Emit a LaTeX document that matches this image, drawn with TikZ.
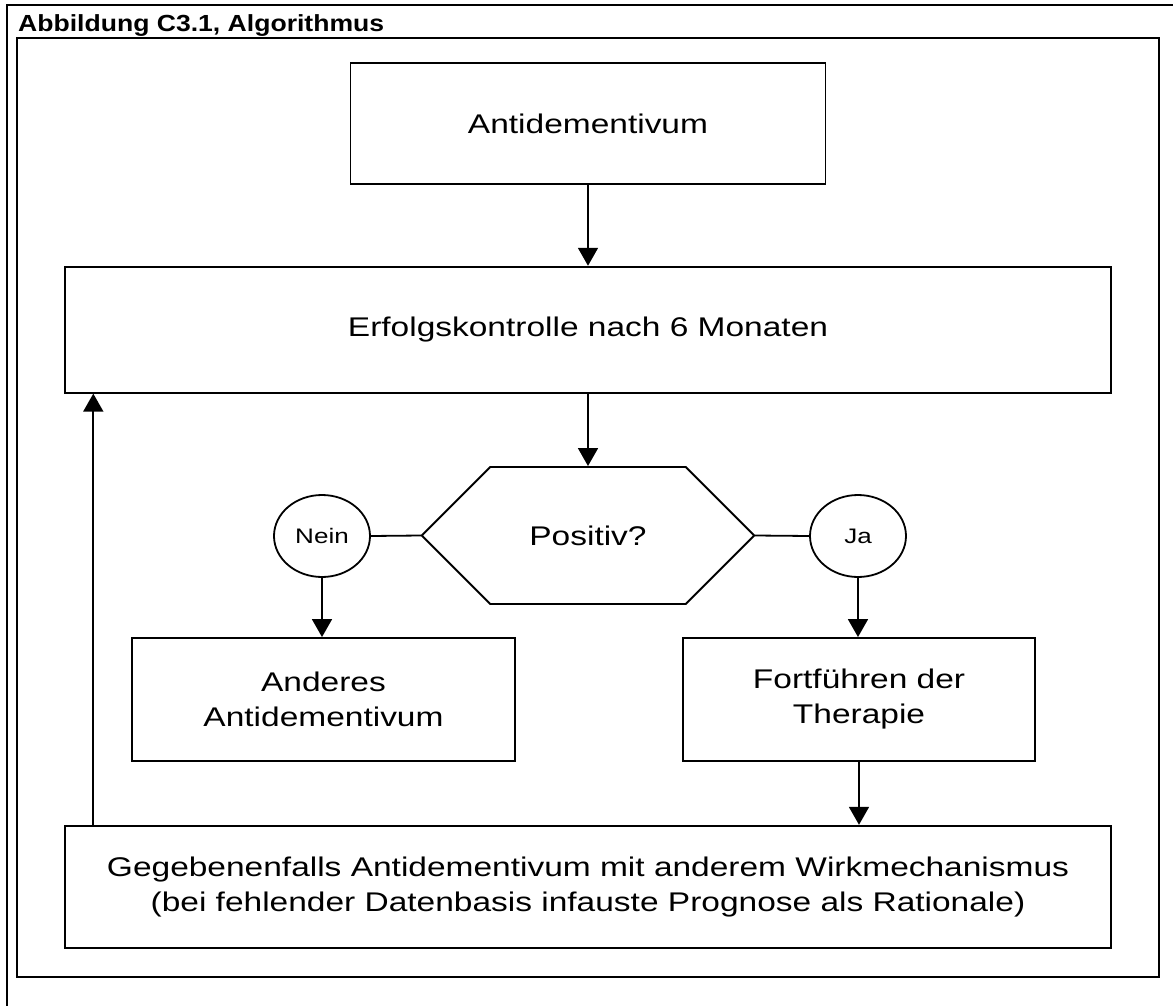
\documentclass[tikz,border=0pt]{standalone}
\usepackage{fontspec}
\setmainfont{Liberation Sans}[FakeStretch=1.24]
\newfontfamily\titelfont{Liberation Sans}[FakeStretch=1.14]
\usetikzlibrary{arrows.meta,shapes.geometric,shapes.misc}

\begin{document}
\begin{tikzpicture}[x=1pt, y=-1pt,
    kasten/.style={draw, line width=1.9pt, rectangle, inner sep=0pt, align=center,
        font=\fontsize{27}{35}\selectfont},
    kreis/.style={draw, line width=1.8pt, ellipse, inner sep=0pt,
        minimum width=96pt, minimum height=82pt, font=\fontsize{21}{25}\selectfont},
    pfeil/.style={line width=1.8pt, -{Triangle[length=18pt, width=20pt]}},
    linie/.style={line width=1.8pt}]
    \useasboundingbox (0, 0) rectangle (1173, 1006);

    \draw [line width=2.5pt] (1173, 5) -- (7, 5) -- (7, 1006);
    \node [anchor=base west, inner sep=0pt,
        font=\titelfont\bfseries\fontsize{23.3}{28}\selectfont] (titel) at (18, 31.7)
        {Abbildung C3.1, Algorithmus};
    \draw [line width=1.9pt] (16.7, 37.7) rectangle (1159, 976.7);

    \node [kasten, minimum width=475pt, minimum height=121pt] (anti) at (588, 123.4)
        {Antidementivum};
    \node [kasten, minimum width=1046pt, minimum height=126pt] (erfolg) at (588, 329.7)
        {Erfolgskontrolle nach 6 Monaten};

    \node [kasten, chamfered rectangle, chamfered rectangle xsep=46.4pt,
        chamfered rectangle ysep=61.4pt, minimum width=332.4pt, minimum height=123pt]
        (positiv) at (588, 535.5) {Positiv?};
    \node [kreis] (nein) at (322, 536) {Nein};
    \node [kreis] (ja) at (858, 536) {Ja};

    \node [kasten, minimum width=383pt, minimum height=123pt] (anderes) at (323.5, 699.5)
        {Anderes\\Antidementivum};
    \node [kasten, minimum width=352pt, minimum height=123pt] (weiter) at (859, 699.5)
        {Fortführen der\\Therapie};

    \node [kasten, minimum width=1046pt, minimum height=122.3pt] (wechsel) at (588, 886.9)
        {Gegebenenfalls Antidementivum mit anderem Wirkmechanismus\\(bei fehlender Datenbasis infauste Prognose als Rationale)};
    \coordinate (rueck) at (93.3, 825.7);

    \draw [pfeil] (anti.south) -- (anti.south |- erfolg.north);
    \draw [pfeil] (erfolg.south -| positiv.north) -- (positiv.north);
    \draw [linie] (nein.east) -- (positiv.west);
    \draw [linie] (positiv.east) -- (ja.west);
    \draw [pfeil] (nein.south) -- (nein.south |- anderes.north);
    \draw [pfeil] (ja.south) -- (ja.south |- weiter.north);
    \draw [pfeil] (weiter.south) -- (weiter.south |- wechsel.north);
    \draw [pfeil] (rueck) -- (rueck |- erfolg.south);
\end{tikzpicture}
\end{document}
